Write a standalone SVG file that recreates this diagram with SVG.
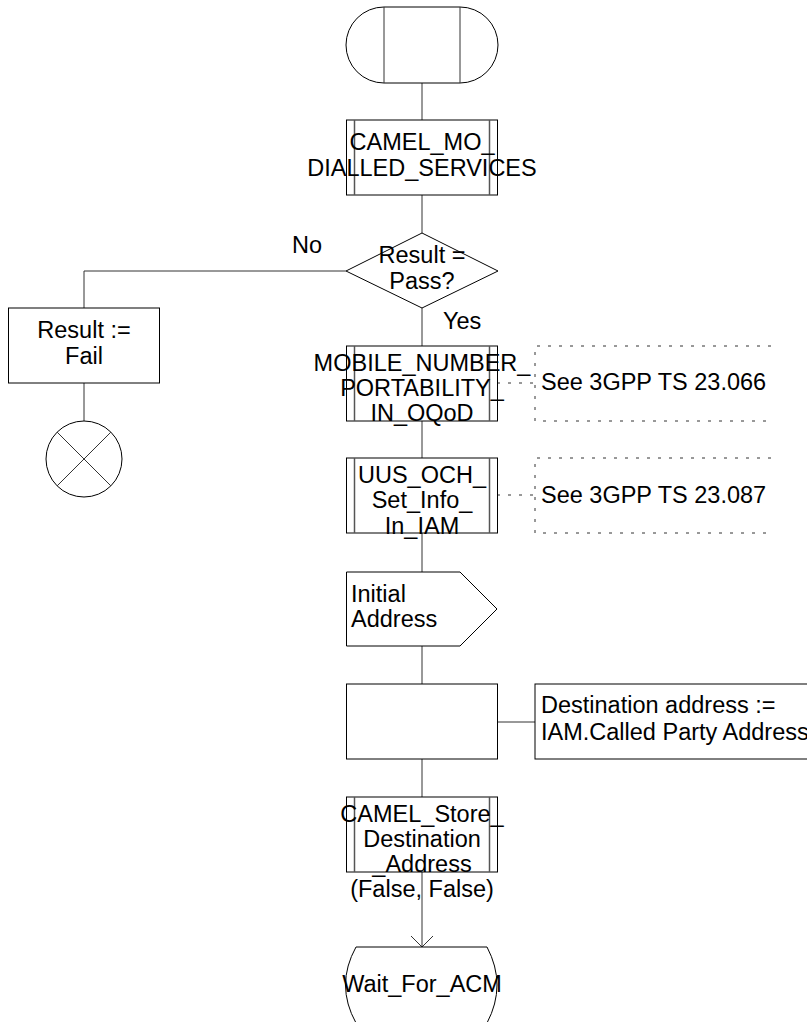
<svg xmlns="http://www.w3.org/2000/svg" width="807" height="1022" viewBox="0 0 807 1022">
<style>
.s{fill:#fff;stroke:#000;stroke-width:1}
.in{fill:none;stroke:#555;stroke-width:1.5}
.c{fill:none;stroke:#333;stroke-width:1}
.d{fill:none;stroke:#333;stroke-width:1;stroke-dasharray:3 8}
text{font-family:"Liberation Sans",Arial,sans-serif;font-size:23.5px;fill:#000}
.m{text-anchor:middle}
</style>
<defs>
<marker id="arr" markerWidth="14" markerHeight="24" refX="12" refY="12" orient="auto" markerUnits="userSpaceOnUse" viewBox="0 0 14 24">
<path d="M1,1 L12,12 L1,23" fill="none" stroke="#333" stroke-width="1"/>
</marker>
</defs>
<g id="connectors">
<line class="c" x1="422" y1="83" x2="422" y2="120"/>
<line class="c" x1="422" y1="195" x2="422" y2="233"/>
<polyline class="c" points="346,271 84,271 84,308"/>
<line class="c" x1="84" y1="383" x2="84" y2="421"/>
<line class="c" x1="422" y1="308" x2="422" y2="346"/>
<line class="c" x1="422" y1="421" x2="422" y2="458"/>
<line class="c" x1="422" y1="533" x2="422" y2="572"/>
<line class="c" x1="422" y1="646" x2="422" y2="684"/>
<line class="c" x1="422" y1="759" x2="422" y2="797"/>
<line class="c" x1="422" y1="872" x2="422" y2="947" marker-end="url(#arr)"/>
<line class="c" x1="497" y1="722" x2="535" y2="722"/>
<line class="d" x1="497" y1="383" x2="535" y2="383"/>
<line class="d" x1="497" y1="495" x2="535" y2="495"/>
<text x="292" y="253">No</text>
<text x="443" y="329">Yes</text>
</g>
<g id="start">
<path class="s" d="M384,7 L460,7 A38,38 0 0 1 460,83 L384,83 A38,38 0 0 1 384,7 Z"/>
<line class="c" x1="384" y1="7" x2="384" y2="83"/>
<line class="c" x1="460" y1="7" x2="460" y2="83"/>
</g>
<g id="camel_mo">
<rect class="s" x="346.5" y="120" width="151" height="75"/>
<line class="in" x1="354.5" y1="120" x2="354.5" y2="195"/>
<line class="in" x1="489.5" y1="120" x2="489.5" y2="195"/>
<text class="m" x="422" y="150">CAMEL_MO_</text>
<text class="m" x="422" y="176">DIALLED_SERVICES</text>
</g>
<g id="decision">
<polygon class="s" points="422,233 498,271 422,308 346,271"/>
<text class="m" x="422" y="263">Result =</text>
<text class="m" x="422" y="289">Pass?</text>
</g>
<g id="fail">
<rect class="s" x="8.5" y="308" width="151" height="75"/>
<text class="m" x="84" y="338">Result :=</text>
<text class="m" x="84" y="364">Fail</text>
</g>
<g id="stop">
<circle class="s" cx="84" cy="459" r="38"/>
<line class="c" x1="57.1" y1="432.1" x2="110.9" y2="485.9"/>
<line class="c" x1="110.9" y1="432.1" x2="57.1" y2="485.9"/>
</g>
<g id="mnp">
<rect class="s" x="346.5" y="346" width="151" height="75"/>
<line class="in" x1="354.5" y1="346" x2="354.5" y2="421"/>
<line class="in" x1="489.5" y1="346" x2="489.5" y2="421"/>
<text class="m" x="422" y="371">MOBILE_NUMBER_</text>
<text class="m" x="422" y="396">PORTABILITY_</text>
<text class="m" x="422" y="421">IN_OQoD</text>
</g>
<g id="note1">
<polyline class="d" points="771,346 535,346 535,421 771,421"/>
<text x="541" y="390">See 3GPP TS 23.066</text>
</g>
<g id="uus">
<rect class="s" x="346.5" y="458" width="151" height="75"/>
<line class="in" x1="354.5" y1="458" x2="354.5" y2="533"/>
<line class="in" x1="489.5" y1="458" x2="489.5" y2="533"/>
<text class="m" x="422" y="483">UUS_OCH_</text>
<text class="m" x="422" y="508">Set_Info_</text>
<text class="m" x="422" y="534">In_IAM</text>
</g>
<g id="note2">
<polyline class="d" points="771,458 535,458 535,533 771,533"/>
<text x="541" y="503">See 3GPP TS 23.087</text>
</g>
<g id="initial_address">
<polygon class="s" points="346.5,572 460,572 497,609 460,646 346.5,646"/>
<text x="351" y="602">Initial</text>
<text x="351" y="627">Address</text>
</g>
<g id="task">
<rect class="s" x="346.5" y="684" width="151" height="75"/>
</g>
<g id="dest_note">
<rect class="s" x="535" y="684" width="290" height="75"/>
<text x="541" y="713">Destination address :=</text>
<text x="541" y="740">IAM.Called Party Address</text>
</g>
<g id="camel_store">
<rect class="s" x="346.5" y="797" width="151" height="75"/>
<line class="in" x1="354.5" y1="797" x2="354.5" y2="872"/>
<line class="in" x1="489.5" y1="797" x2="489.5" y2="872"/>
<text class="m" x="422" y="822">CAMEL_Store_</text>
<text class="m" x="422" y="847">Destination</text>
<text class="m" x="422" y="872">_Address</text>
<text class="m" x="422" y="897">(False, False)</text>
</g>
<g id="wait_for_acm">
<path class="s" d="M356,947 L487,947 Q507,985 487,1023 L356,1023 Q335,985 356,947 Z"/>
<text class="m" x="422" y="992">Wait_For_ACM</text>
</g>
</svg>
